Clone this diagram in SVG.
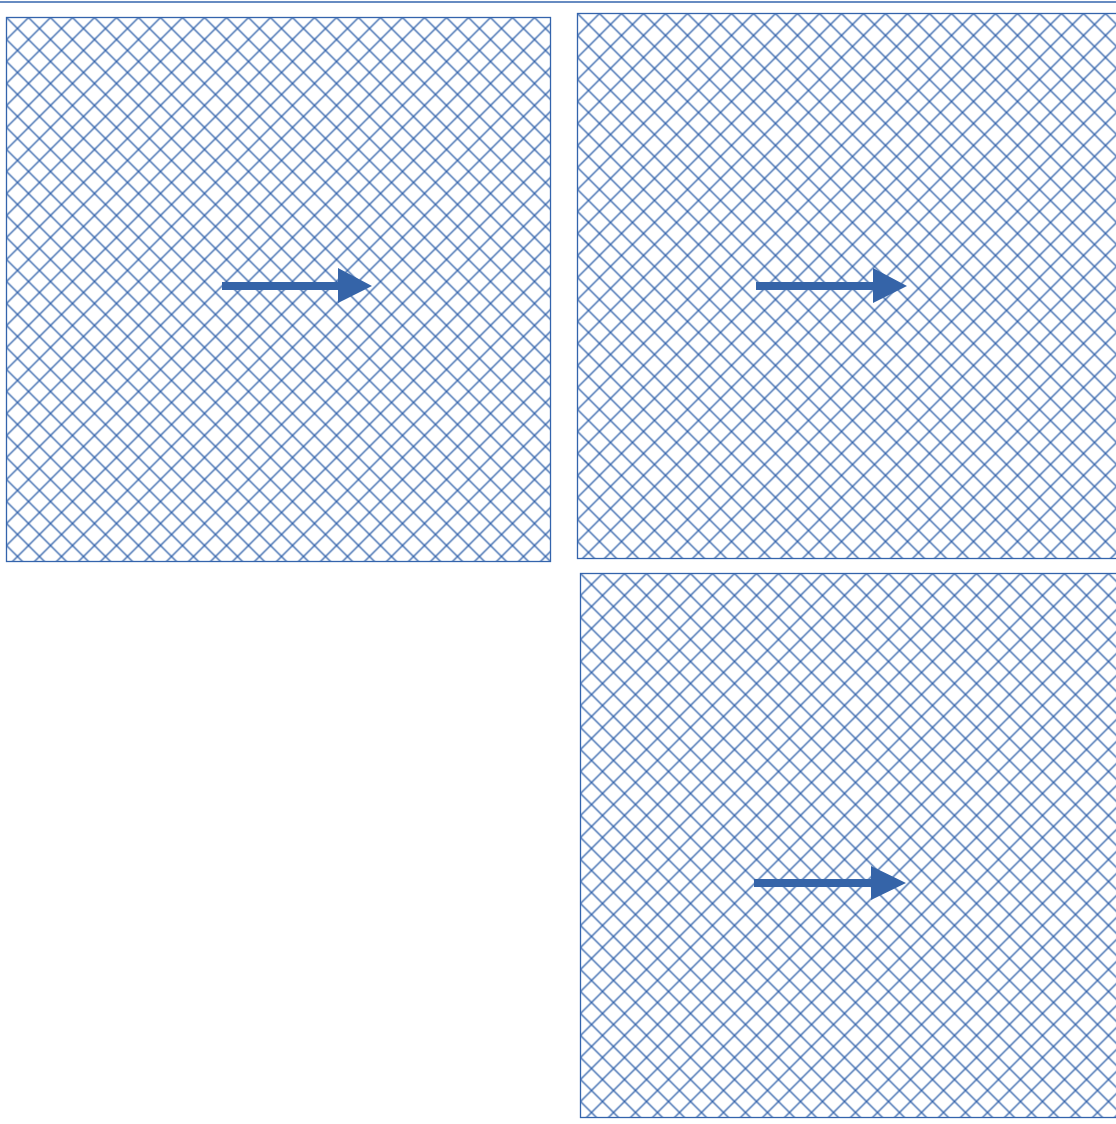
<svg xmlns="http://www.w3.org/2000/svg" width="1116" height="1124" viewBox="0 0 1116 1124">
<style>
.box{fill:url(#hatch);stroke:#3464ac;stroke-width:1.3}
.arrow{fill:#3564a8;stroke:none}
.rule{stroke:#3464ac;stroke-width:1.4}
</style>
<defs>
<pattern id="hatch" patternUnits="userSpaceOnUse" width="22" height="22">
<path d="M0,0 L22,22 M22,0 L0,22 M-11,11 L11,33 M11,-11 L33,11 M-11,11 L11,-11 M11,33 L33,11" stroke="#3464ac" stroke-width="1.35" fill="none"/>
</pattern>
</defs>
<rect width="1116" height="1124" fill="#ffffff"/>
<line class="rule" x1="0" y1="2" x2="1116" y2="2"/>
<g id="panel-1" transform="translate(6.5,17.5)">
<rect class="box" x="0" y="0" width="544" height="544"/>
</g>
<g id="panel-2" transform="translate(577.5,13.5)">
<rect class="box" x="0" y="0" width="545" height="545"/>
</g>
<g id="panel-3" transform="translate(580.5,573.5)">
<rect class="box" x="0" y="0" width="545" height="544"/>
</g>
<g id="connectors">
<polygon class="arrow" points="222,282 338,282 338,268 372,286 338,303 338,290 222,290"/>
<polygon class="arrow" points="756,282 873,282 873,268 907,286 873,303 873,290 756,290"/>
<polygon class="arrow" points="754,879 871,879 871,866 906,883 871,900 871,887 754,887"/>
</g>
</svg>
